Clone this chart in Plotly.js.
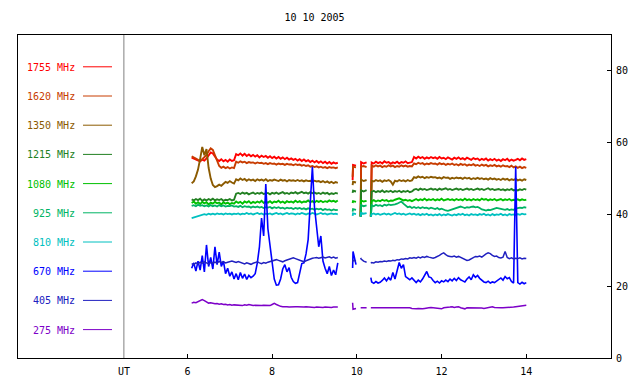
<!DOCTYPE html>
<html>
<head>
<meta charset="utf-8">
<script src="https://cdn.plot.ly/plotly-3.0.1.min.js"></script>
<style>html,body{margin:0;padding:0;background:#fff;}#chart{width:640px;height:384px;}</style>
</head>
<body>
<div id="chart"></div>
<script>
// ---- time grids (UT hours) for the four recorded segments ----
const tA = [6.10,6.15,6.20,6.25,6.30,6.35,6.40,6.45,6.50,6.55,
  6.60,6.65,6.70,6.75,6.80,6.85,6.90,6.95,7.00,7.05,
  7.10,7.15,7.20,7.25,7.30,7.35,7.40,7.45,7.50,7.55,
  7.60,7.65,7.70,7.75,7.80,7.85,7.90,7.95,8.00,8.05,
  8.10,8.15,8.20,8.25,8.30,8.35,8.40,8.45,8.50,8.55,
  8.60,8.65,8.70,8.75,8.80,8.85,8.90,8.95,9.00,9.05,
  9.10,9.15,9.20,9.25,9.30,9.35,9.40,9.45,9.50,9.55];
const tB = [9.90,9.91,9.98];
const tC = [10.09,10.10,10.16,10.23];
const tD = [10.33,
  10.35,10.40,10.45,10.50,10.55,10.60,10.65,10.70,10.75,10.80,
  10.85,10.90,10.95,11.00,11.05,11.10,11.15,11.20,11.25,11.30,
  11.35,11.40,11.45,11.50,11.55,11.60,11.65,11.70,11.75,11.80,
  11.85,11.90,11.95,12.00,12.05,12.10,12.15,12.20,12.25,12.30,
  12.35,12.40,12.45,12.50,12.55,12.60,12.65,12.70,12.75,12.80,
  12.85,12.90,12.95,13.00,13.05,13.10,13.15,13.20,13.25,13.30,
  13.35,13.40,13.45,13.50,13.55,13.60,13.65,13.70,13.75,13.80,
  13.85,13.90,13.95,14.00];

// ---- series values (segments A | B | C | D separated by null) ----
const f1755 = [
  55.8,55.6,55.2,55.0,54.8,55.3,55.0,55.6,56.4,57.3,
  57.0,56.0,55.3,54.9,55.4,54.8,55.2,54.7,55.3,54.9,
  55.1,56.8,56.5,57.0,56.4,56.9,56.3,56.7,56.2,56.6,
  56.1,56.5,55.9,56.4,56.0,56.3,55.8,56.2,55.7,56.1,
  55.6,56.0,55.5,55.9,55.4,55.8,55.3,55.6,55.2,55.5,
  55.0,55.4,54.9,55.3,54.8,55.1,54.6,55.0,54.5,54.9,
  54.4,54.8,54.3,54.7,54.2,54.6,54.1,54.5,54.2,54.4,
  null, 49.6,53.8,53.6,
  null, 39.4,54.6,54.2,54.5,
  null, 39.4,
  54.5,54.2,54.7,54.3,54.6,54.2,54.8,54.4,54.6,54.1,
  54.5,54.3,54.7,54.2,54.6,54.4,54.8,54.3,54.5,54.6,
  56.0,55.6,56.1,55.7,56.0,55.5,55.9,55.6,56.0,55.7,
  55.9,55.5,56.0,55.6,55.8,55.4,55.9,55.6,55.3,55.8,
  55.5,55.9,55.4,55.7,55.3,55.8,55.5,55.2,55.7,55.4,
  55.6,55.1,55.5,55.2,55.6,55.0,55.4,55.1,55.5,55.0,
  55.3,54.9,55.4,55.1,55.5,54.9,55.3,55.0,55.2,55.5,
  55.1,55.6,55.2,55.4];
const f1620 = [
  56.2,56.0,55.6,55.2,55.0,55.4,55.9,56.6,57.6,58.4,
  58.0,56.4,54.6,53.5,53.0,53.3,52.9,53.2,52.8,53.1,
  52.9,54.7,54.4,54.8,54.5,54.7,54.3,54.6,54.4,54.5,
  54.2,54.5,54.3,54.4,54.1,54.3,54.0,54.3,54.1,54.2,
  53.9,54.2,54.0,54.1,53.8,54.1,53.9,54.0,53.7,54.0,
  53.8,53.9,53.6,53.8,53.5,53.7,53.3,53.5,53.2,53.4,
  53.1,53.3,53.0,53.2,52.9,53.2,53.0,53.1,52.9,53.1,
  null, 50.5,53.3,53.1,
  null, 39.4,53.3,53.5,53.2,
  null, 39.4,
  53.6,53.3,53.7,53.4,53.6,53.2,53.5,53.3,53.7,53.4,
  53.6,53.2,53.5,53.3,53.7,53.4,53.6,53.3,53.5,53.4,
  54.2,54.0,54.4,54.1,54.3,53.9,54.2,54.0,54.3,54.1,
  54.2,53.9,54.3,54.0,54.2,53.8,54.1,53.9,54.2,53.8,
  54.0,53.7,54.1,53.8,54.0,53.6,53.9,53.7,54.0,53.6,
  53.8,53.5,53.9,53.6,53.8,53.4,53.7,53.5,53.8,53.4,
  53.6,53.3,53.7,53.4,53.5,53.2,53.6,53.1,53.4,53.0,
  53.3,52.9,53.2,53.0];
const f1350 = [
  48.7,49.2,50.6,52.5,55.5,58.8,56.5,58.2,53.0,50.0,
  48.2,47.6,47.9,48.3,48.0,48.7,49.1,48.8,49.3,48.9,
  48.6,49.8,49.5,50.0,49.6,49.9,49.4,49.8,49.5,49.7,
  49.3,49.8,49.5,49.7,49.4,49.8,49.3,49.6,49.4,49.7,
  49.5,49.3,49.7,49.4,49.6,49.2,49.6,49.4,49.5,49.3,
  49.6,49.3,49.5,49.2,49.5,49.3,49.4,49.1,49.4,49.2,
  49.3,49.0,49.3,48.9,49.2,48.8,49.1,48.7,49.0,48.8,
  null, 48.2,49.1,48.9,
  null, 39.4,49.7,49.3,49.6,
  null, 39.4,
  49.4,49.2,49.6,49.3,49.5,49.1,49.5,49.3,49.6,49.2,
  48.3,49.4,49.2,49.6,49.3,49.5,49.2,49.6,49.3,49.5,
  50.4,50.2,50.6,50.3,50.5,50.1,50.4,50.2,50.5,50.3,
  50.4,50.1,50.3,50.0,50.4,50.2,50.3,49.9,50.2,50.0,
  50.3,50.1,50.2,49.9,50.3,50.0,50.2,49.8,50.1,49.9,
  50.2,49.9,50.1,49.8,50.0,49.7,50.1,49.8,50.0,49.7,
  49.9,49.6,50.0,49.7,49.9,49.5,49.8,49.6,49.9,49.5,
  49.7,49.4,49.8,49.6];
const f1215 = [
  44.2,43.9,44.3,44.0,44.4,43.8,44.2,43.9,44.3,44.0,
  44.4,43.9,44.2,44.0,44.3,43.8,44.1,44.0,44.3,43.9,
  44.1,45.8,46.0,45.7,46.1,45.8,46.0,45.6,45.9,46.1,
  45.7,46.0,45.8,46.1,45.7,45.9,46.0,45.6,46.0,45.8,
  46.1,45.7,45.9,46.2,45.8,46.0,45.7,46.1,45.9,46.2,
  45.8,46.0,46.3,45.9,46.1,45.8,46.2,45.9,46.1,45.8,
  46.0,45.7,46.1,45.8,46.0,45.6,45.9,45.7,46.0,45.8,
  null, 46.0,46.6,46.4,
  null, 39.4,46.7,46.4,46.8,
  null, 39.4,
  46.3,46.6,46.2,46.5,46.3,46.7,46.2,46.5,46.3,46.6,
  46.2,46.5,46.3,46.6,46.2,46.5,46.3,46.6,46.2,46.4,
  46.9,47.1,46.8,47.2,46.9,47.1,46.8,47.0,47.2,46.9,
  47.1,46.8,47.2,46.9,47.0,47.3,46.9,47.1,46.8,47.0,
  47.2,46.9,47.1,46.8,47.0,47.2,46.9,47.1,46.8,47.0,
  47.2,46.9,47.1,46.8,47.0,47.3,46.9,47.1,46.8,47.0,
  47.1,46.8,47.0,46.7,47.0,46.8,47.1,46.7,46.9,46.7,
  47.0,46.8,47.1,46.9];
const f1080 = [
  43.2,43.6,43.0,43.4,42.9,43.5,43.1,43.4,42.8,43.3,
  43.0,43.5,43.1,43.3,42.8,43.4,43.0,43.3,42.9,43.2,
  43.0,43.6,43.2,43.5,43.0,43.6,43.3,43.7,43.1,43.5,
  43.2,43.6,43.3,43.8,43.2,43.5,43.3,43.7,43.2,43.6,
  43.4,43.8,43.3,43.6,43.2,43.7,43.4,43.6,43.3,43.8,
  43.4,43.7,43.3,43.6,43.5,43.9,43.4,43.7,43.3,43.8,
  43.5,43.8,43.4,43.7,43.5,43.9,43.6,43.8,43.5,43.9,
  null, 43.2,43.7,43.5,
  null, 39.4,43.9,43.6,43.8,
  null, 39.4,
  43.7,44.0,43.6,43.9,43.7,44.1,43.8,44.0,43.6,43.9,
  43.8,44.1,44.3,44.5,44.2,43.9,44.1,43.8,44.0,43.7,
  44.0,44.3,43.9,44.2,44.0,44.4,43.9,44.2,44.0,44.3,
  43.9,44.2,44.0,44.4,43.9,44.1,44.3,44.0,44.2,43.9,
  44.3,44.0,44.2,43.9,44.4,44.0,44.2,43.9,44.3,44.0,
  44.2,43.9,44.4,44.1,44.3,43.9,44.2,44.0,44.3,43.9,
  44.1,44.3,43.9,44.2,44.0,44.3,43.9,44.1,44.0,44.2,
  43.9,44.2,44.0,44.1];
const f925 = [
  42.4,42.6,42.3,42.7,42.4,42.6,42.3,42.5,42.2,42.6,
  42.3,42.5,42.2,42.6,42.3,42.5,42.2,42.4,42.3,42.5,
  42.2,42.3,42.1,42.4,42.0,42.3,42.1,42.2,41.9,42.2,
  42.0,42.2,41.9,42.1,41.8,42.0,41.9,42.1,41.7,42.0,
  41.8,42.0,41.7,41.9,41.6,41.9,41.7,41.8,41.5,41.8,
  41.6,41.8,41.5,41.7,41.4,41.7,41.5,41.6,41.3,41.6,
  41.4,41.6,41.2,41.5,41.3,41.4,41.1,41.4,41.2,41.3,
  null, 40.8,41.5,41.3,
  null, 39.4,42.6,42.3,42.5,
  null, 39.4,
  42.6,42.3,42.7,42.4,42.6,42.3,42.7,42.5,42.8,42.6,
  42.6,42.8,43.0,43.3,43.6,43.0,42.5,42.0,42.2,41.8,
  42.1,41.8,42.0,41.7,42.0,41.8,41.9,41.6,41.9,41.7,
  41.5,41.8,41.4,41.6,41.3,41.1,41.0,41.2,41.4,41.7,
  41.9,42.1,42.2,42.0,41.8,42.0,41.9,42.1,42.2,42.0,
  42.1,41.8,41.4,41.3,41.1,41.3,41.2,41.4,41.6,41.8,
  41.7,41.5,41.4,41.3,41.5,41.2,41.4,41.3,41.6,41.8,
  41.9,41.8,42.0,41.9];
const f810 = [
  39.0,39.2,39.4,39.6,39.8,39.9,40.1,39.9,40.2,40.0,
  40.2,40.0,40.3,40.1,40.2,40.0,40.3,40.1,40.2,40.0,
  40.2,40.1,40.3,40.0,40.2,40.1,40.4,40.1,40.3,40.0,
  40.2,40.4,40.1,40.3,40.0,40.2,40.1,40.3,40.0,40.2,
  40.4,40.1,40.3,40.0,40.2,40.4,40.1,40.3,40.2,40.0,
  40.3,40.1,40.4,40.2,40.0,40.3,40.1,40.4,40.2,40.0,
  40.2,40.4,40.1,40.3,40.0,40.2,40.3,40.1,40.2,40.0,
  null, 39.6,40.3,40.1,
  null, 39.4,40.4,40.2,40.4,
  null, 39.4,
  40.1,40.3,40.0,40.2,39.9,40.1,40.3,40.0,40.2,39.9,
  40.2,40.4,40.1,40.3,40.0,40.2,39.9,40.1,40.3,40.0,
  40.2,39.9,40.1,39.8,40.1,39.9,40.2,39.8,40.0,39.7,
  40.0,39.8,40.1,39.7,40.0,39.8,40.1,39.9,39.7,40.0,
  39.8,40.1,39.9,40.2,39.8,40.0,39.7,40.1,39.9,40.0,
  39.8,40.1,39.9,40.2,39.8,40.0,39.7,40.1,39.8,40.0,
  39.9,40.2,39.8,40.0,39.7,40.1,39.9,40.0,39.8,40.1,
  39.9,40.2,40.0,40.1];
const f670 = [
  25.0,26.5,24.2,27.0,24.5,28.5,24.0,31.5,25.5,28.0,
  24.8,31.0,26.0,29.5,25.5,27.0,23.5,25.0,22.8,24.0,
  22.0,23.5,21.8,23.8,22.2,23.4,21.9,23.0,22.4,22.8,
  23.5,26.5,31.0,39.0,34.0,48.5,36.0,31.5,26.0,22.0,
  20.3,20.4,22.0,24.8,26.0,24.0,25.2,22.5,21.3,20.8,
  21.0,23.5,26.3,26.5,29.0,33.0,45.0,53.3,42.0,36.0,
  31.0,34.0,27.0,25.0,23.5,25.5,23.0,24.5,23.2,26.5,
  null, 25.1,29.7,26.0,
  null, null,null,null,null,
  null, 22.4,
  21.2,20.8,21.3,20.9,21.1,21.6,22.3,21.5,22.4,21.7,
  23.8,22.0,24.5,26.6,25.0,26.0,22.7,22.2,21.8,22.3,
  21.5,21.0,21.7,21.2,22.0,23.2,24.1,22.6,22.4,21.6,
  21.0,21.4,20.9,21.5,21.2,21.7,21.3,22.0,21.5,22.2,
  21.6,22.4,21.8,21.5,21.2,22.0,22.6,21.8,23.2,22.5,
  23.0,22.2,21.6,21.2,21.0,21.4,20.9,21.2,21.0,21.5,
  21.8,22.3,21.7,22.7,22.1,22.4,21.3,20.9,53.3,21.0,
  20.6,21.1,20.7,21.0];
const f405 = [
  26.3,26.0,26.5,26.2,26.7,26.4,26.8,26.5,26.2,26.6,
  26.4,26.7,26.5,26.9,26.6,26.8,26.5,26.7,26.9,27.0,
  26.8,26.6,26.9,26.7,26.4,26.2,26.5,26.3,26.1,26.4,
  26.6,26.8,26.5,26.3,26.6,26.4,26.7,26.9,27.1,27.3,
  27.4,27.2,27.0,26.8,27.1,27.3,27.5,27.8,27.9,27.7,
  27.5,27.3,27.0,26.8,27.1,27.4,27.6,27.8,27.9,28.0,
  27.8,27.9,28.1,27.9,28.0,28.2,27.9,28.1,27.8,28.0,
  null, 26.8,27.2,27.0,
  null, 27.9,27.6,27.0,26.7,
  null, 26.4,
  26.6,26.5,26.8,26.7,26.9,26.8,27.0,26.9,27.1,27.0,
  27.2,27.1,27.4,27.3,27.6,27.5,27.7,27.6,27.9,27.8,
  28.0,27.8,28.1,27.9,28.2,28.0,28.3,28.1,28.0,27.8,
  28.0,28.2,28.6,29.0,29.3,28.8,28.4,28.3,28.2,28.4,
  28.1,28.3,28.0,27.8,27.5,27.2,27.3,27.6,28.0,28.3,
  28.2,28.4,28.1,28.6,29.0,29.3,29.1,28.6,28.3,28.4,
  28.0,27.9,28.1,29.7,28.0,27.7,27.9,27.6,27.8,27.7,
  27.9,27.6,27.8,27.7];
const f275 = [
  15.3,15.5,15.4,15.7,16.0,16.3,16.0,15.6,15.3,15.4,
  15.2,15.1,15.2,15.0,15.1,14.9,15.0,14.8,14.9,14.7,
  14.8,14.7,14.6,14.7,14.6,14.8,14.7,14.9,14.7,14.6,
  14.7,14.6,14.5,14.6,14.7,14.6,14.5,14.6,14.9,15.2,
  14.9,14.6,14.4,14.3,14.4,14.3,14.2,14.3,14.2,14.3,
  14.3,14.2,14.1,14.2,14.3,14.2,14.1,14.2,14.1,14.2,
  14.1,14.2,14.1,14.2,14.1,14.2,14.1,14.2,14.1,14.2,
  null, 15.4,13.6,13.8,
  null, 14.0,14.0,14.0,14.0,
  null, 14.0,
  14.0,14.1,14.0,14.0,14.1,14.0,14.0,14.1,14.0,14.0,
  14.1,14.0,14.0,14.1,14.0,14.0,14.1,14.0,14.0,13.8,
  13.7,13.7,13.8,13.7,13.7,13.8,14.0,14.0,14.1,14.0,
  14.0,13.7,13.6,13.7,14.0,14.0,14.1,14.2,14.3,14.1,
  14.2,14.3,14.0,13.8,13.7,14.0,14.0,14.1,14.0,14.0,
  14.0,14.1,13.9,13.8,13.9,14.0,14.2,14.3,14.1,14.0,
  14.1,14.0,14.0,14.0,14.1,14.0,14.1,14.2,14.3,14.4,
  14.5,14.7,14.6,14.7];

const seriesNames = ['1755 MHz','1620 MHz','1350 MHz','1215 MHz','1080 MHz','925 MHz','810 MHz','670 MHz','405 MHz','275 MHz'];
const seriesColors = ['#ff0000','#c83c00','#8b5a00','#228022','#00c000','#00b464','#00c0c0','#0000ff','#2020c0','#7d00c8'];
const seriesWidths = [1.9,1.9,1.9,1.9,1.9,1.8,1.8,1.6,1.5,1.5];
const seriesValues = [f1755,f1620,f1350,f1215,f1080,f925,f810,f670,f405,f275];
const xTicks = [6,8,10,12,14];
const yTicks = [0,20,40,60,80];
const titleText = '10 10 2005';

// ---- build ----
const T = [].concat(tA, [null], tB, [null], tC, [null], tD);
const MONO = 'DejaVu Sans Mono, Liberation Mono, monospace';
const problems = [];
const traces = seriesValues.map((v, i) => {
  if (v.length !== T.length) problems.push(seriesNames[i] + ':' + v.length + '/' + T.length);
  return {
    x: T, y: v, type: 'scatter', mode: 'lines', connectgaps: false,
    line: {color: seriesColors[i], width: seriesWidths[i]},
    hoverinfo: 'skip', showlegend: false
  };
});

// plot area in pixels: left 18, right 611, top 35, bottom 358
const L = 18, R = 29, TOP = 35, B = 26, W = 640, H = 384;
const pw = W - L - R, ph = H - TOP - B;
const px2paperX = x => (x - L) / pw;
const px2paperY = y => (H - B - y) / ph;

const annotations = [];
const shapes = [];
seriesNames.forEach((n, i) => {
  const yc = 67.3 + i * 29.2;
  annotations.push({
    xref: 'paper', yref: 'paper', x: px2paperX(76.5), y: px2paperY(yc),
    xanchor: 'right', yanchor: 'middle', showarrow: false, text: n,
    font: {family: MONO, size: 10, color: seriesColors[i]}
  });
  shapes.push({
    type: 'line', xref: 'paper', yref: 'paper',
    x0: px2paperX(83), x1: px2paperX(112), y0: px2paperY(yc - 0.5), y1: px2paperY(yc - 0.5),
    line: {color: seriesColors[i], width: 1}
  });
});
// UT separator
shapes.push({type: 'line', xref: 'x', yref: 'paper', x0: 4.5, x1: 4.5, y0: 0, y1: 1,
  line: {color: '#808080', width: 1}});
annotations.push({xref: 'x', yref: 'paper', x: 4.5, y: px2paperY(371), xanchor: 'center', yanchor: 'middle',
  showarrow: false, text: 'UT', font: {family: MONO, size: 10, color: '#000'}});
if (problems.length) {
  annotations.push({xref: 'paper', yref: 'paper', x: 0.5, y: 0.98, showarrow: false,
    text: 'LEN MISMATCH ' + problems.join(' '), font: {size: 10, color: '#f00'}});
}

const layout = {
  width: W, height: H,
  margin: {l: L, r: R, t: TOP, b: B, pad: 0},
  paper_bgcolor: '#ffffff', plot_bgcolor: '#ffffff',
  showlegend: false,
  title: {text: titleText, xref: 'paper', x: 0.5, xanchor: 'center', yref: 'container', y: 1 - 17 / H, yanchor: 'middle',
    font: {family: MONO, size: 10, color: '#000'}},
  xaxis: {range: [2, 16], tickmode: 'array', tickvals: xTicks, ticktext: xTicks.map(String),
    ticks: 'inside', ticklen: 4, tickcolor: '#000', tickwidth: 1, ticklabelstandoff: 4,
    showline: true, linecolor: '#000', linewidth: 1, mirror: true,
    showgrid: false, zeroline: false, fixedrange: true,
    tickfont: {family: MONO, size: 10, color: '#000'}},
  yaxis: {range: [0, 90], side: 'right', tickmode: 'array', tickvals: yTicks, ticktext: yTicks.map(String),
    ticks: 'inside', ticklen: 4, tickcolor: '#000', tickwidth: 1, ticklabelstandoff: 2,
    showline: true, linecolor: '#000', linewidth: 1, mirror: true,
    showgrid: false, zeroline: false, fixedrange: true,
    tickfont: {family: MONO, size: 10, color: '#000'}},
  annotations: annotations,
  shapes: shapes
};

Plotly.newPlot('chart', traces, layout, {staticPlot: true, displayModeBar: false});
</script>
</body>
</html>
